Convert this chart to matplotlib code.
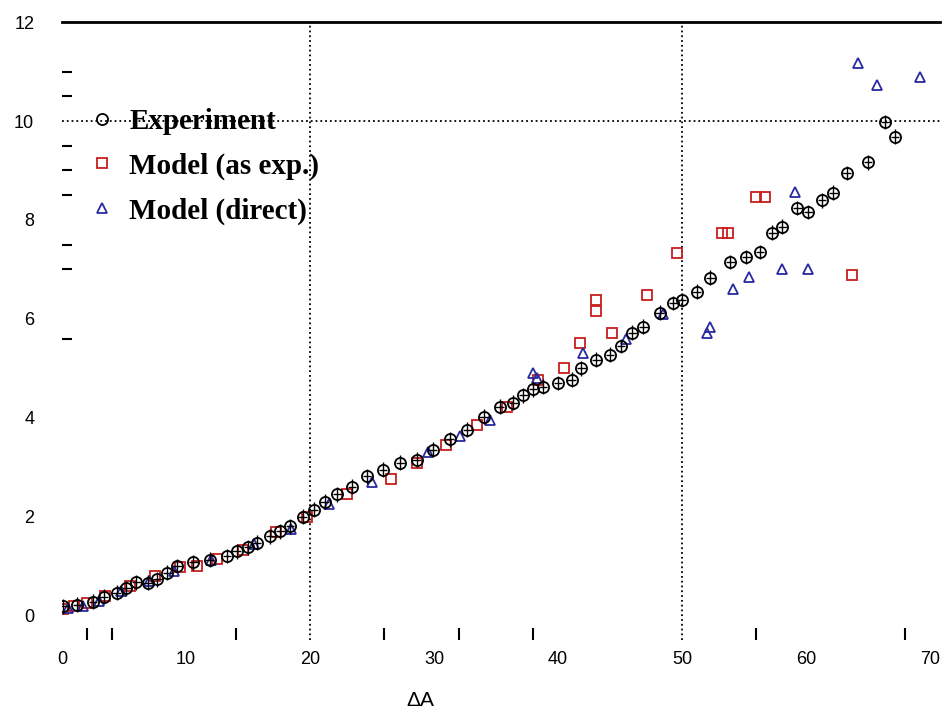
import numpy as np
import matplotlib
matplotlib.use("Agg")
import matplotlib.pyplot as plt

# Experiment (black circles)
exp_x = [0.1, 1.2, 2.5, 3.4, 4.4, 5.2, 6.0, 6.9, 7.7, 8.5, 9.3, 10.6, 11.9, 13.3, 14.1, 15.0,
         15.7, 16.8, 17.6, 18.4, 19.4, 20.3, 21.2, 22.2, 23.4, 24.6, 25.9, 27.3, 28.6, 29.9, 31.3, 32.7,
         34.0, 35.3, 36.4, 37.2, 38.0, 38.8, 40.0, 41.1, 41.9, 43.1, 44.2, 45.1, 46.0, 46.9, 48.2, 49.3,
         50.0, 51.2, 52.3, 53.9, 55.2, 56.3, 57.3, 58.1, 59.3, 60.2, 61.3, 62.2, 63.3, 65.0, 66.4, 67.2]
exp_y = [0.18, 0.22, 0.28, 0.38, 0.46, 0.55, 0.67, 0.66, 0.73, 0.86, 1.0, 1.07, 1.13, 1.2, 1.3, 1.38,
         1.47, 1.6, 1.7, 1.8, 2.0, 2.14, 2.3, 2.45, 2.6, 2.81, 2.95, 3.09, 3.15, 3.35, 3.56, 3.76,
         4.02, 4.22, 4.3, 4.45, 4.57, 4.63, 4.7, 4.77, 5.0, 5.17, 5.27, 5.45, 5.72, 5.84, 6.12, 6.32,
         6.38, 6.55, 6.83, 7.15, 7.25, 7.35, 7.74, 7.86, 8.24, 8.16, 8.4, 8.55, 8.95, 9.17, 9.98, 9.68]

# Model (as exp.) (red squares)
asexp_x = [0.1, 1.0, 2.0, 3.5, 5.5, 7.5, 9.5, 10.9, 12.5, 14.6, 17.3, 19.8, 23.0, 26.5, 28.6, 31.0,
           33.5, 35.9, 38.4, 40.5, 41.8, 43.1, 43.1, 44.4, 47.2, 49.6, 53.2, 53.7, 56.0, 56.7, 63.7]
asexp_y = [0.12, 0.2, 0.25, 0.4, 0.6, 0.8, 0.98, 1.0, 1.15, 1.33, 1.68, 2.0, 2.45, 2.75, 3.09, 3.45,
           3.85, 4.22, 4.77, 5.0, 5.52, 6.38, 6.16, 5.72, 6.48, 7.33, 7.74, 7.74, 8.46, 8.46, 6.89]

# Model (direct) (blue triangles)
direct_x = [0.5, 1.7, 3.0, 4.8, 7.0, 9.0, 12.0, 15.5, 18.5, 21.5, 25.0, 29.5, 32.1, 34.5, 38.0,
            38.3, 42.0, 45.5, 48.5, 52.0, 52.3, 54.1, 55.4, 58.1, 59.1, 60.2, 64.2, 65.7, 69.2]
direct_y = [0.15, 0.18, 0.3, 0.5, 0.7, 0.9, 1.12, 1.45, 1.75, 2.25, 2.7, 3.3, 3.62, 3.95, 4.91,
            4.8, 5.3, 5.6, 6.1, 5.72, 5.84, 6.6, 6.85, 7.0, 8.56, 7.0, 11.17, 10.73, 10.9]

x_ticks = [0, 10, 20, 30, 40, 50, 60, 70]
y_ticks = [0, 2, 4, 6, 8, 10, 12]
x_minor = [2, 4, 14, 20, 26, 32, 38, 50, 56, 68]
y_minor = [5.6, 7.0, 7.5, 8.5, 9.0, 9.5, 10.0, 10.5, 11.0]

fig = plt.figure(figsize=(9.49, 7.16), dpi=100)
ax = fig.add_axes([0.0653, 0.106, 0.925, 0.863])

# error bars first, markers on top
ax.errorbar(exp_x, exp_y, xerr=0.35, yerr=0.15, fmt="none", ecolor="black",
            elinewidth=1.0, capsize=0, zorder=3)
ax.plot(exp_x, exp_y, "o", mfc="none", mec="black", ms=8, mew=1.3,
        label="Experiment", zorder=4)
ax.plot(asexp_x, asexp_y, "s", mfc="none", mec="#c81e1e", ms=7, mew=1.3,
        label="Model (as exp.)", zorder=2)
ax.plot(direct_x, direct_y, "^", mfc="none", mec="#2a2aa0", ms=7, mew=1.3,
        label="Model (direct)", zorder=2)

# dotted reference lines
for xv in [20, 50]:
    ax.axvline(xv, color="black", ls=":", lw=1.3, zorder=1)
ax.axhline(10, color="black", ls=":", lw=1.3, zorder=1)

ax.set_xlim(0, 70.8)
ax.set_ylim(-0.5, 12)
for s in ["left", "right", "bottom"]:
    ax.spines[s].set_visible(False)
ax.spines["top"].set_linewidth(2)

ax.set_xticks(x_ticks)
ax.set_xticks(x_minor, minor=True)
ax.set_yticks(y_ticks)
ax.set_yticks(y_minor, minor=True)
ax.tick_params(axis="x", which="major", length=0, pad=8, labelsize=13)
ax.tick_params(axis="x", which="minor", direction="in", length=9, width=1.5)
ax.tick_params(axis="y", which="major", length=0, pad=20, labelsize=13)
ax.tick_params(axis="y", which="minor", direction="in", length=7, width=1.5)
for lab in ax.get_xticklabels() + ax.get_yticklabels():
    lab.set_fontfamily("Liberation Sans")

fig.text(420 / 949, 1 - 700 / 716, "ΔA", ha="center", va="center", fontsize=15,
         family="Liberation Sans")

ax.legend(loc="upper left", bbox_to_anchor=(0.012, 0.88), frameon=False,
          prop={"family": "Liberation Serif", "size": 21, "weight": "bold"},
          handletextpad=0.35, labelspacing=0.6, handlelength=1.2, borderaxespad=0)

fig.savefig("out.png", dpi=100)
